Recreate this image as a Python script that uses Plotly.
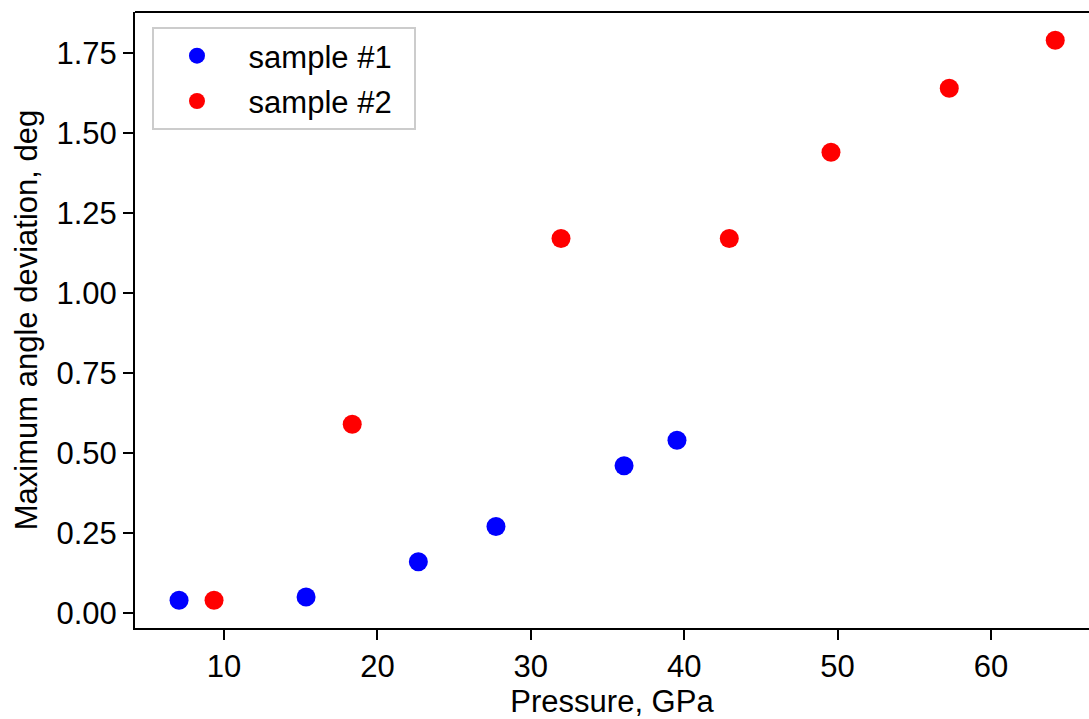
import plotly.graph_objects as go

s1_pressure = [7.07, 15.35, 22.67, 27.73, 36.08, 39.53]
s1_dev = [0.04, 0.05, 0.16, 0.27, 0.46, 0.54]
s2_pressure = [9.35, 18.36, 31.97, 42.94, 49.57, 57.28, 64.19]
s2_dev = [0.04, 0.59, 1.17, 1.17, 1.44, 1.64, 1.79]

x_ticks = [10, 20, 30, 40, 50, 60]
y_ticks = [0.0, 0.25, 0.5, 0.75, 1.0, 1.25, 1.5, 1.75]
y_tick_text = ["0.00", "0.25", "0.50", "0.75", "1.00", "1.25", "1.50", "1.75"]

FONT = "Liberation Sans, Arial, sans-serif"
FS = 31
NB = "\u00a0"

fig = go.Figure()
fig.add_trace(go.Scatter(x=s1_pressure, y=s1_dev, mode="markers", name=NB + "sample #1" + NB + NB,
                         legendgroup="a", marker=dict(color="#0000ff", size=19)))
fig.add_trace(go.Scatter(x=s2_pressure, y=s2_dev, mode="markers", name=NB + "sample #2" + NB + NB,
                         legendgroup="b", marker=dict(color="#ff0000", size=19)))

axis_common = dict(showgrid=False, zeroline=False, showline=True, linecolor="black",
                   linewidth=2, ticks="outside", ticklen=10, tickwidth=2, tickcolor="black",
                   tickfont=dict(family=FONT, size=FS, color="black"), mirror=False)

fig.update_layout(
    width=1089, height=719,
    margin=dict(l=135, r=0, t=12, b=91),
    paper_bgcolor="white", plot_bgcolor="white",
    font=dict(family=FONT, size=FS, color="black"),
    xaxis=dict(range=[4.198, 66.39], tickvals=x_ticks,
               title=dict(text="Pressure, GPa", font=dict(family=FONT, size=FS), standoff=4),
               **axis_common),
    yaxis=dict(range=[-0.0469, 1.878], tickvals=y_ticks, ticktext=y_tick_text,
               title=dict(text="Maximum angle deviation, deg", font=dict(family=FONT, size=FS), standoff=10),
               **axis_common),
    legend=dict(x=0.0178, y=0.9756, xanchor="left", yanchor="top",
                bgcolor="rgba(255,255,255,0.8)", bordercolor="#cccccc", borderwidth=2,
                font=dict(family=FONT, size=FS), itemwidth=76, tracegroupgap=2),
    showlegend=True,
)
fig.add_shape(type="line", xref="paper", yref="paper", x0=0, x1=1, y0=1, y1=1,
              line=dict(color="black", width=2))

fig.write_html("out.html")
